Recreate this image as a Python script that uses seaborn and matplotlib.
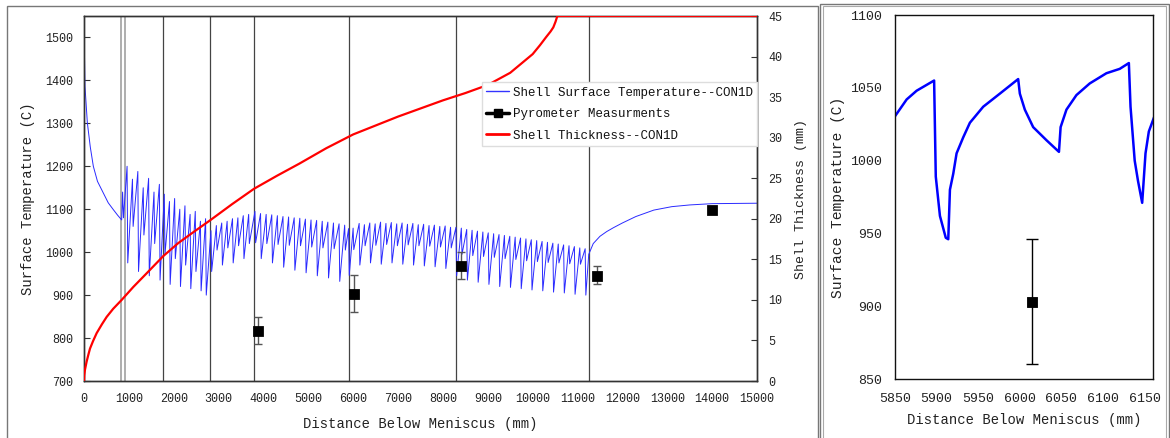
import numpy as np
import pandas as pd
import matplotlib
matplotlib.use("Agg")
import matplotlib.pyplot as plt
import seaborn as sns
from matplotlib.lines import Line2D
from matplotlib.patches import Rectangle

# ---------------- data ----------------
# mould region surface temperature (mm, C)
start_x = [0, 5, 22, 74, 140, 208, 300, 431, 540, 654, 750, 840, 860, 880]
start_T = [1560, 1495, 1386, 1302, 1245, 1200, 1165, 1138, 1115, 1099, 1086, 1075, 1140, 1080]

# spray-zone roll cycles: peak position (mm), peak temperature, dip temperature
cyc_x = [960, 1080, 1200, 1320, 1440, 1560, 1680,
         1790, 1905, 2020, 2135, 2250, 2365, 2480, 2595, 2710,
         2830, 2950, 3070, 3190, 3310, 3430, 3550, 3670,
         3810, 3935, 4060, 4185, 4310, 4435, 4560, 4685, 4810, 4935, 5060, 5185, 5310, 5435, 5560, 5685, 5810,
         5897, 5998, 6133, 6250, 6370, 6490, 6610, 6730, 6850, 6970, 7090, 7210, 7330, 7450, 7570, 7690, 7810, 7930, 8050, 8170,
         8290, 8410, 8530, 8650, 8770, 8890, 9010, 9130, 9250, 9370, 9490, 9610, 9730, 9850, 9970, 10090, 10210,
         10330, 10450, 10570, 10690, 10810, 10930, 11050, 11170]
cyc_peak = [1200, 1170, 1188, 1150, 1172, 1140, 1158,
            1135, 1118, 1125, 1100, 1108, 1088, 1095, 1072, 1078,
            1050, 1062, 1068, 1072, 1078, 1080, 1085, 1088,
            1095, 1090, 1088, 1087, 1085, 1083, 1082, 1080, 1079, 1077, 1075, 1074, 1072, 1070, 1068, 1066, 1063,
            1055, 1056, 1067, 1064, 1068, 1066, 1070, 1067, 1069, 1066, 1068, 1065, 1067, 1064, 1065, 1062, 1063, 1060, 1061, 1058,
            1058, 1056, 1053, 1051, 1049, 1047, 1045, 1043, 1041, 1039, 1037, 1035, 1033, 1031, 1029, 1027, 1025,
            1023, 1021, 1019, 1017, 1015, 1013, 1010, 1008]
cyc_dip = [975, 1060, 955, 1040, 945, 1020, 935,
           995, 925, 985, 920, 970, 915, 955, 910, 900,
           955, 1005, 970, 1010, 975, 1015, 985, 1020,
           1022, 985, 1020, 975, 1018, 965, 1016, 958, 1015, 952, 1012, 945, 1010, 940, 1008, 932, 1005,
           946, 1006, 970, 1015, 975, 1016, 972, 1018, 975, 1015, 972, 1017, 970, 1015, 968, 1014, 966, 1012, 962, 1010,
           945, 995, 935, 992, 930, 990, 925, 988, 920, 985, 918, 983, 915,
           980, 912, 978, 910, 976, 907, 975, 905, 973, 902, 972, 900]

# below the last roll: reheating
tail_x = [11250, 11350, 11500, 11650, 11800, 12000, 12300, 12700, 13100, 13500, 14000, 15000]
tail_T = [995, 1020, 1037, 1048, 1057, 1068, 1083, 1098, 1106, 1110, 1113, 1114]

# shell thickness (mm)
thick_x = [0, 5, 22, 59, 100, 134, 200, 282, 400, 505, 650, 840, 1100, 1400, 1767, 2100, 2450, 2808,
           3300, 3790, 4300, 4800, 5400, 6000, 6500, 7000, 7500, 8000, 8500, 9000, 9500, 10000,
           10163, 10300, 10400, 10460, 10510, 10550, 15000]
thick_mm = [0, 0.7, 1.4, 2.4, 3.3, 4.0, 4.9, 5.9, 7.0, 7.9, 8.9, 10.0, 11.6, 13.3, 15.4, 17.0, 18.4, 19.8,
            21.8, 23.7, 25.3, 26.8, 28.7, 30.4, 31.5, 32.6, 33.6, 34.6, 35.5, 36.5, 38.0, 40.3,
            41.4, 42.4, 43.1, 43.6, 44.3, 45, 45]

# pyrometer measurements
pyro_x = [3880, 6015, 8400, 11430, 14000]
pyro_T = [817, 903, 968, 945, 1099]
pyro_lo = [785, 860, 937, 925, 1093]
pyro_hi = [850, 946, 1001, 967, 1105]

# zone boundaries (mm)
zone_x = [825, 914, 1760, 2808, 3789, 5906, 8291, 11255]

# detailed view 5850-6160 mm
det_x = [5847, 5864, 5876, 5897, 5899, 5904, 5911, 5914, 5916, 5920, 5924, 5932, 5940, 5956, 5976, 5998,
         6000, 6006, 6016, 6032, 6047, 6049, 6056, 6068, 6084, 6104, 6120, 6131, 6133, 6138, 6142, 6147,
         6151, 6155, 6164]
det_T = [1028, 1042, 1048, 1055, 989, 962, 947, 946, 980, 991, 1005, 1016, 1026, 1037, 1046, 1056,
         1046, 1035, 1023, 1014, 1006, 1023, 1035, 1045, 1053, 1060, 1063, 1067, 1037, 1000, 986, 971,
         1005, 1020, 1034]

# ---------------- build the surface temperature polyline ----------------
DROP = 15
bx = list(start_x)
by = list(start_T)
for x, p, d in zip(cyc_x, cyc_peak, cyc_dip):
    bx += [x, x + DROP]
    by += [p, d]
bx += tail_x
by += tail_T
surf = pd.DataFrame({"x": bx, "T": by})
thick = pd.DataFrame({"x": thick_x, "mm": thick_mm})
det = pd.DataFrame({"x": det_x, "T": det_T})

# ---------------- styling ----------------
sns.set_theme(style="white")
plt.rcParams["font.family"] = ["Liberation Mono", "DejaVu Sans Mono"]
plt.rcParams["axes.edgecolor"] = "#333333"
plt.rcParams["axes.linewidth"] = 1.0

W, H = 1170, 438
fig = plt.figure(figsize=(W / 100, H / 100), dpi=100)

def fx(p):
    return p / W

def fy(p):
    return 1 - p / H

ax = fig.add_axes([fx(84), fy(381), fx(757) - fx(84), fy(16) - fy(381)])
ax2 = ax.twinx()
axr = fig.add_axes([fx(895), fy(379), fx(1153) - fx(895), fy(15) - fy(379)])

# zone lines
for i, xv in enumerate(zone_x):
    ax.axvline(xv, color="#999999" if i < 2 else "#444444", lw=1.1 if i < 2 else 0.9, zorder=0)

sns.lineplot(data=surf, x="x", y="T", ax=ax, sort=False, estimator=None,
             color="#2a2aff", lw=0.7, zorder=2)
ax.errorbar(pyro_x, pyro_T, yerr=[np.subtract(pyro_T, pyro_lo), np.subtract(pyro_hi, pyro_T)],
            fmt="none", ecolor="#555555", elinewidth=1, capsize=3, zorder=3)
sns.scatterplot(x=pyro_x, y=pyro_T, ax=ax, marker="s", s=50, color="black",
                edgecolor="black", zorder=4, legend=False)

sns.lineplot(data=thick, x="x", y="mm", ax=ax2, sort=False, estimator=None,
             color="red", lw=1.6, zorder=3)

ax.set_xlim(0, 15000)
ax.set_ylim(700, 1550)
ax.set_xticks(range(0, 15001, 1000))
ax.set_yticks(range(700, 1501, 100))
ax2.set_ylim(0, 45)
ax2.set_yticks(range(0, 46, 5))

ax.set_xlabel("Distance Below Meniscus (mm)", fontsize=10, labelpad=8, color="#222222")
ax.set_ylabel("Surface Temperature (C)", fontsize=10, labelpad=7, color="#222222")
ax2.set_ylabel("Shell Thickness (mm)", fontsize=9.5, labelpad=9, color="#222222")

for a in (ax, ax2):
    a.tick_params(direction="in", length=4, width=0.8, labelsize=8.5, colors="#333333",
                  labelcolor="#222222")
ax.tick_params(axis="x", pad=9)
ax.tick_params(axis="y", pad=8)
ax2.tick_params(axis="y", pad=8)
ax2.grid(False)
ax.grid(False)

handles = [Line2D([], [], color="#3333ff", lw=1),
           Line2D([], [], color="black", lw=2.5, marker="s", markersize=6),
           Line2D([], [], color="red", lw=2)]
labels = ["Shell Surface Temperature--CON1D", "Pyrometer Measurments", "Shell Thickness--CON1D"]
leg = ax2.legend(handles, labels, loc="upper right", bbox_to_anchor=(1.0, 0.818),
                 fontsize=9, frameon=True, fancybox=False, edgecolor="#dddddd",
                 framealpha=1, handlelength=1.85, handletextpad=0.25, labelspacing=0.75,
                 borderpad=0.35, borderaxespad=0)
for t in leg.get_texts():
    t.set_color("#111111")

# detail panel
sns.lineplot(data=det, x="x", y="T", ax=axr, sort=False, estimator=None, color="#0000ff", lw=1.8)
axr.errorbar([pyro_x[1]], [pyro_T[1]], yerr=[[pyro_T[1] - pyro_lo[1]], [pyro_hi[1] - pyro_T[1]]],
             fmt="none", ecolor="black", elinewidth=1, capsize=4)
sns.scatterplot(x=[pyro_x[1]], y=[pyro_T[1]], ax=axr, marker="s", s=60, color="black",
                edgecolor="black", zorder=4, legend=False)
axr.set_xlim(5850, 6160)
axr.set_ylim(850, 1100)
axr.set_xticks(range(5850, 6151, 50))
axr.set_yticks(range(850, 1101, 50))
axr.tick_params(direction="in", length=4, width=0.8, labelsize=9.5, colors="#333333",
                labelcolor="#222222")
axr.tick_params(axis="x", pad=10)
axr.tick_params(axis="y", pad=9)
axr.set_xlabel("Distance Below Meniscus (mm)", fontsize=10, labelpad=6, color="#222222")
axr.set_ylabel("Surface Temperature (C)", fontsize=10.5, labelpad=4, color="#222222")
axr.grid(False)
for s in axr.spines.values():
    s.set_color("#111111")

# panel frames
fig.patches.append(Rectangle((fx(7), -0.05), fx(818) - fx(7), fy(6) + 0.05,
                             transform=fig.transFigure, fill=False, edgecolor="#777777", lw=1))
fig.patches.append(Rectangle((fx(820), -0.05), fx(1169) - fx(820), fy(4) + 0.05,
                             transform=fig.transFigure, fill=False, edgecolor="#777777", lw=1))
fig.patches.append(Rectangle((fx(823), -0.05), fx(1166) - fx(823), fy(6) + 0.05,
                             transform=fig.transFigure, fill=False, edgecolor="#aaaaaa", lw=0.8))

fig.savefig("out.png", dpi=100)
